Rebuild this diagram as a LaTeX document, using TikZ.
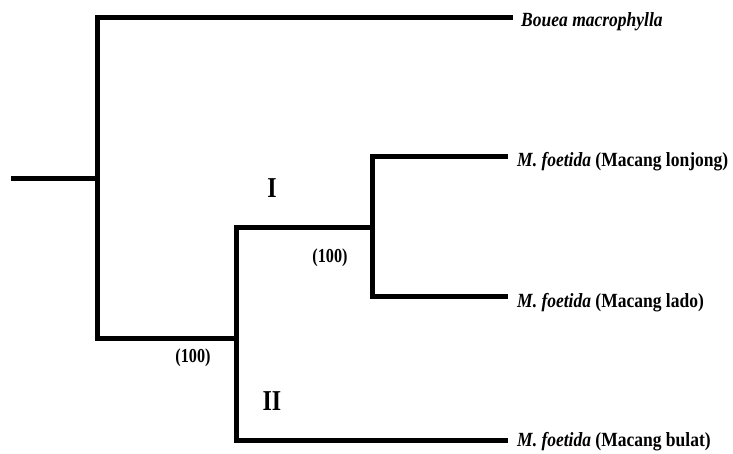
\documentclass[tikz,border=0pt]{standalone}
\usepackage{fontspec}
\usepackage{graphicx}
\setmainfont{Liberation Serif}
\begin{document}
\begin{tikzpicture}[x=1pt,y=-1pt,
  branch/.style={line width=5pt,line cap=rect,line join=miter},
  taxon/.style={anchor=west,inner sep=0pt,font=\bfseries\fontsize{17.5}{20}\selectfont},
  lab/.style={inner sep=0pt,font=\bfseries\fontsize{18}{20}\selectfont},
  clade/.style={inner sep=0pt,font=\bfseries\fontsize{24}{26}\selectfont}]
\useasboundingbox (0,0) rectangle (733,454);
% internal nodes
\coordinate (r0) at (13,179);
\coordinate (r) at (97,179);
\coordinate (rt) at (97,18);
\coordinate (rb) at (97,338);
\coordinate (a) at (236,338);
\coordinate (at) at (236,228);
\coordinate (ab) at (236,440);
\coordinate (b) at (372,228);
\coordinate (bt) at (372,157);
\coordinate (bb) at (372,296);
\coordinate (e1) at (510,18);
\coordinate (e2) at (505,157);
\coordinate (e3) at (505,296);
\coordinate (e4) at (505,440);
% taxa
\node[taxon] (t1) at (521,22) {\scalebox{1}[1.15]{\itshape Bouea macrophylla}};
\node[taxon] (t2) at (517,162) {\scalebox{1}[1.15]{\textit{M. foetida} (Macang lonjong)}};
\node[taxon] (t3) at (517,303) {\scalebox{1}[1.15]{\textit{M. foetida} (Macang lado)}};
\node[taxon] (t4) at (517,442) {\scalebox{1}[1.15]{\textit{M. foetida} (Macang bulat)}};
% labels
\node[clade] (l1) at (272,188) {\scalebox{1}[1.2]{I}};
\node[clade] (l2) at (272,401) {\scalebox{1}[1.2]{II}};
\node[lab] (s1) at (330,258) {\scalebox{0.9}[1.1]{(100)}};
\node[lab] (s2) at (193,358) {\scalebox{0.9}[1.1]{(100)}};
% branches
\draw[branch] (r0) -- (r);
\draw[branch] (e1) -- (rt) -- (rb) -- (a);
\draw[branch] (b) -- (at) -- (ab) -- (e4);
\draw[branch] (e2) -- (bt) -- (bb) -- (e3);
\end{tikzpicture}
\end{document}
